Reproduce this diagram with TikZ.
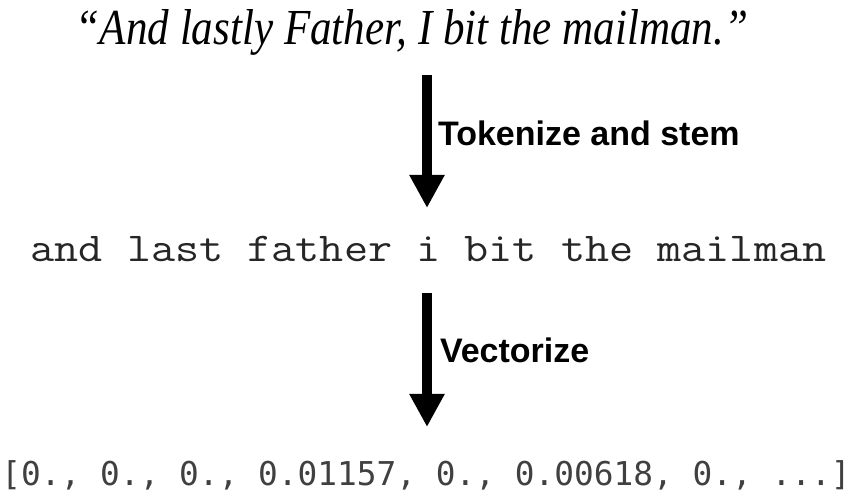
\documentclass[tikz,border=0pt]{standalone}
\usepackage{fontspec}
\usepackage{graphicx}
\setmainfont{Liberation Serif}
\newfontfamily\labelfont{Liberation Sans}
\newfontfamily\vecfont{DejaVu Sans Mono}
\usetikzlibrary{arrows.meta}
\tikzset{
  txt/.style={inner sep=0pt, outer sep=0pt, anchor=base},
  steplabel/.style={inner sep=0pt, outer sep=0pt, anchor=base west, font=\labelfont\bfseries\fontsize{34pt}{40pt}\selectfont},
  bigarrow/.style={line width=10pt, -{Triangle[length=33pt,width=33pt]}}
}
\begin{document}
\begin{tikzpicture}[x=1pt,y=1pt]
\useasboundingbox (0,0) rectangle (853,500);
\node[txt] (quote) at (412,455) {\resizebox{672pt}{35pt}{\itshape\fontsize{40pt}{48pt}\selectfont “And lastly Father, I bit the mailman.”}};
\node[txt, text=black!85] (tokens) at (428.5,238) {\scalebox{1.142}[1]{\ttfamily\fontsize{41pt}{48pt}\selectfont and last father i bit the mailman}};
\node[txt, text=black!75] (vec) at (426,14) {\vecfont\fontsize{32.8pt}{40pt}\selectfont [0., 0., 0., 0.01157, 0., 0.00618, 0., ...]};
\coordinate (a1top) at (427,425);
\coordinate (a1tip) at (427,292);
\coordinate (a2top) at (427,207);
\coordinate (a2tip) at (427,73);
\draw[bigarrow] (a1top) -- (a1tip);
\draw[bigarrow] (a2top) -- (a2tip);
\node[steplabel] (lab1) at (438,354) {Tokenize and stem};
\node[steplabel] (lab2) at (440,137) {Vectorize};
\end{tikzpicture}
\end{document}
